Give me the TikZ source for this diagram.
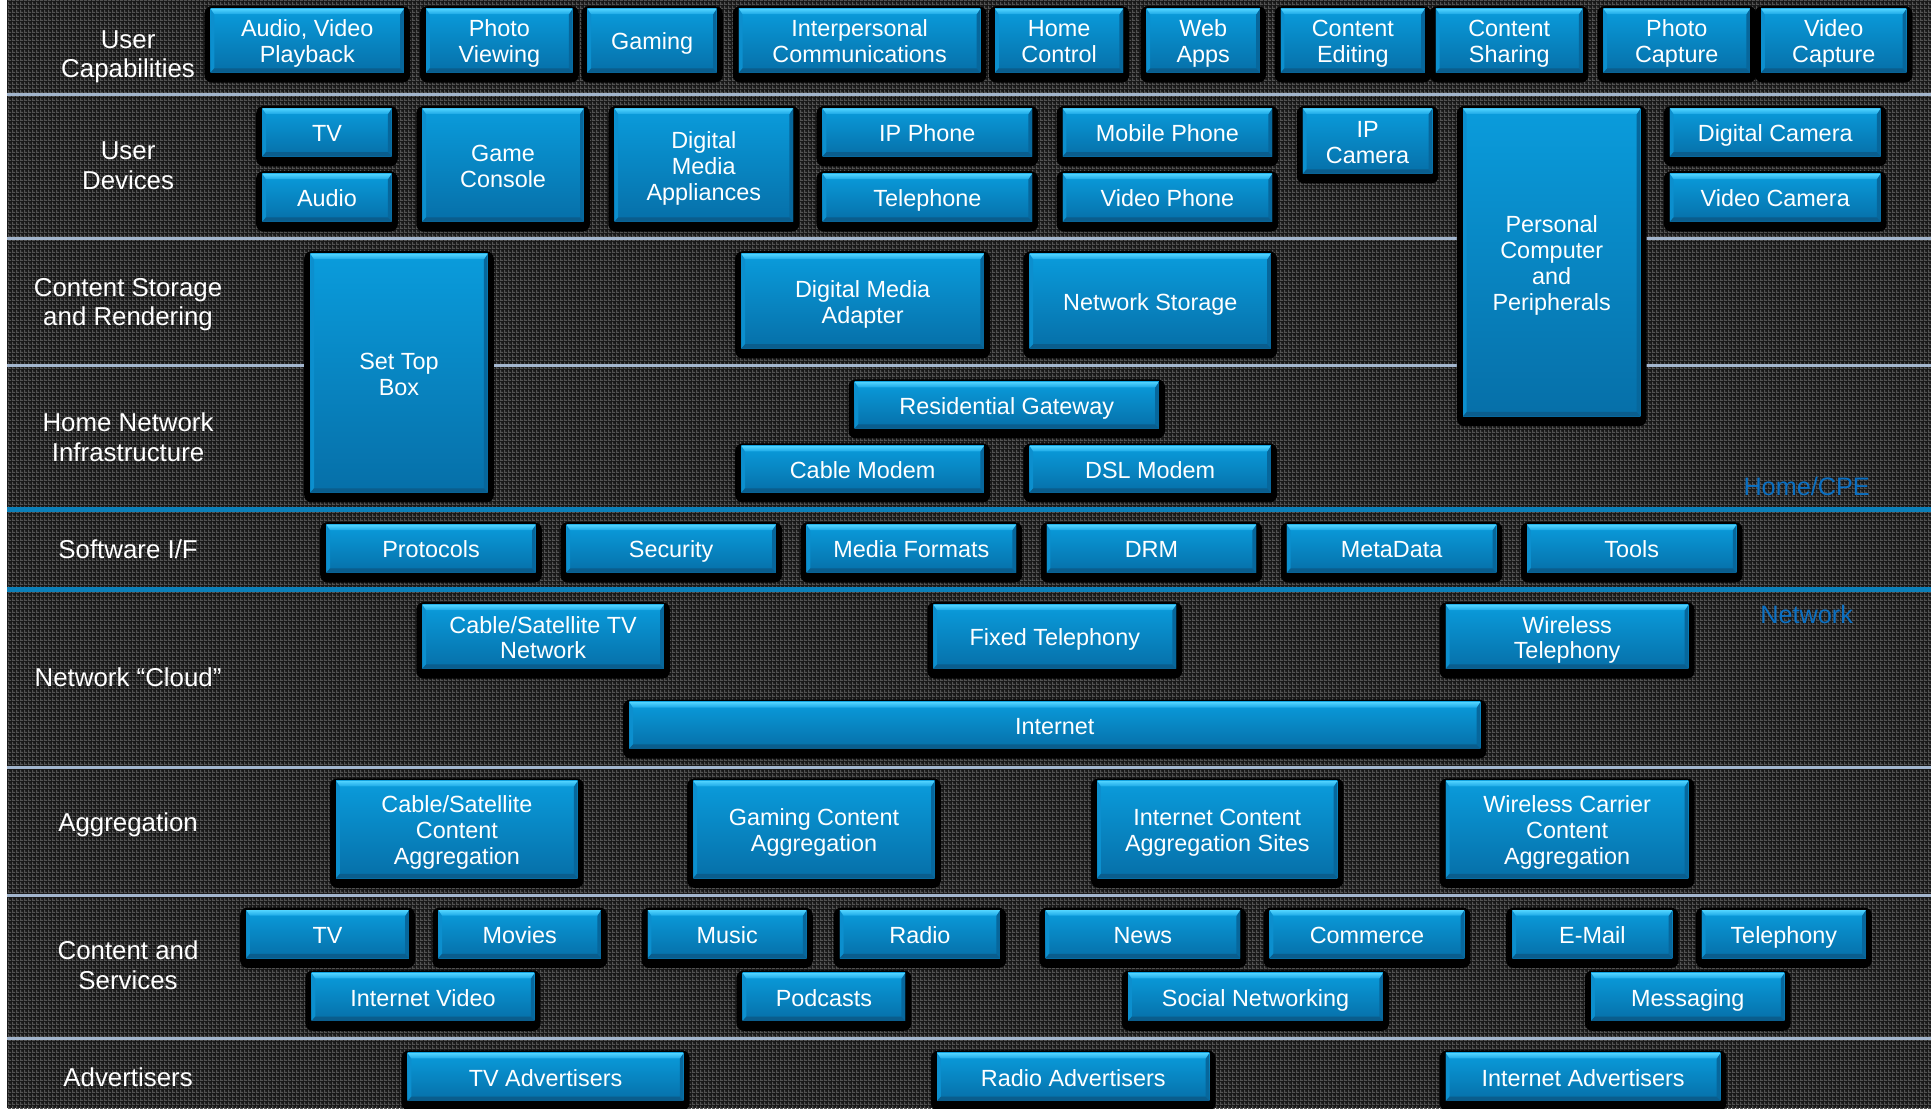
\documentclass[tikz,border=0pt]{standalone}
\usepackage{fontspec}
\setmainfont{Liberation Sans}
\usetikzlibrary{patterns}

\pgfdeclarelayer{backdrop}
\pgfdeclarelayer{shadows}
\pgfsetlayers{backdrop,shadows,main}

% woven texture of the panel
\pgfdeclarepatternformonly{weave}{\pgfpointorigin}{\pgfqpoint{3.25pt}{3.25pt}}{\pgfqpoint{3.25pt}{3.25pt}}{%
  \pgfpathrectangle{\pgfpointorigin}{\pgfqpoint{3.25pt}{1.2pt}}%
  \pgfpathrectangle{\pgfpointorigin}{\pgfqpoint{1.2pt}{3.25pt}}%
  \pgfusepath{fill}}

\definecolor{panel}{HTML}{181818}
\definecolor{panelweave}{HTML}{525252}
\definecolor{rulegrey}{HTML}{A3B6CE}
\definecolor{zone}{HTML}{0B80BA}
\definecolor{zonetext}{HTML}{0A6FC2}
\definecolor{btntop}{HTML}{0A9CDC}
\definecolor{btnbot}{HTML}{066FA8}
\definecolor{bevhi}{HTML}{52D4FF}
\definecolor{bevlo}{HTML}{1CA8E6}
\definecolor{bevdark}{HTML}{0A5D8D}
\definecolor{bevright}{HTML}{07679C}
\definecolor{bevleft}{HTML}{0C8FCE}

\tikzset{
  btnbevel/.style={path picture={
    \path (path picture bounding box.north west) coordinate (bvnw)
          (path picture bounding box.north east) coordinate (bvne)
          (path picture bounding box.south west) coordinate (bvsw)
          (path picture bounding box.south east) coordinate (bvse);
    \fill[bevleft] (bvnw) -- ([xshift=3pt,yshift=-4.5pt]bvnw)
      -- ([xshift=3pt,yshift=3.5pt]bvsw) -- (bvsw) -- cycle;
    \fill[bevright] (bvne) -- ([xshift=-3pt,yshift=-4.5pt]bvne)
      -- ([xshift=-3pt,yshift=3.5pt]bvse) -- (bvse) -- cycle;
    \shade[top color=bevhi, bottom color=bevlo] (bvnw) -- (bvne)
      -- ([xshift=-3pt,yshift=-4.5pt]bvne) -- ([xshift=3pt,yshift=-4.5pt]bvnw) -- cycle;
    \fill[bevdark] (bvsw) -- (bvse)
      -- ([xshift=-3pt,yshift=3.5pt]bvse) -- ([xshift=3pt,yshift=3.5pt]bvsw) -- cycle;
  }},
  btnface/.style={draw=none, top color=btntop, bottom color=btnbot, btnbevel,
    inner sep=0pt, text=white, align=center,
    font=\fontsize{19}{21}\selectfont},
  btnshade/.style={fill=black, rounded corners=6pt},
  rowlabel/.style={text=white, align=center, inner sep=0pt,
    font=\fontsize{21}{24}\selectfont},
  divider/.style={draw=rulegrey, line width=2.2pt},
  zoneline/.style={draw=zone, line width=4pt},
  zonelabel/.style={text=zonetext, font=\fontsize{20.5}{24}\selectfont},
}

% a tall strut opens the first line and a deep one closes the last,
% so every text block sits at the same height whatever its letters
\newcommand\btntop{\rule{0pt}{20pt}}
\newcommand\btnbot{\rule[-5pt]{0pt}{5pt}}
\newcommand\lbltop{\rule{0pt}{21pt}}
\newcommand\lblbot{\rule[-6pt]{0pt}{6pt}}

% \btn{name}{left}{top}{right}{bottom}{text}
\newcommand\btn[6]{%
  \begin{pgfonlayer}{shadows}
    \fill[btnshade] (#2-5,#3-2) rectangle (#4+5,#5+8);
  \end{pgfonlayer}
  \node[btnface, minimum width={#4-#2}, minimum height={#5-#3}]
    (#1) at ({(#2+#4)/2},{(#3+#5)/2}) {\btntop#6\btnbot};
}
% \rowtitle{name}{y}{text}
\newcommand\rowtitle[3]{%
  \node[rowlabel] (#1) at (104,#2) {\lbltop#3\lblbot};
}

\begin{document}
\begin{tikzpicture}[x=1pt,y=-1pt]
\useasboundingbox (0,0) rectangle (1568,900);

\begin{pgfonlayer}{backdrop}
  \fill[white] (0,0) rectangle (1568,900);
  \fill[panel] (6,0) rectangle (1568,900);
  \fill[pattern=weave, pattern color=panelweave] (6,0) rectangle (1568,900);
  % layer dividers
  \draw[divider] (6,77) -- (1568,77);
  \draw[divider] (6,193.5) -- (1568,193.5);
  \draw[divider] (6,297) -- (1568,297);
  \draw[zoneline] (6,414) -- (1568,414);
  \draw[zoneline] (6,479) -- (1568,479);
  \draw[divider] (6,623) -- (1568,623);
  \draw[divider] (6,727) -- (1568,727);
  \draw[divider] (6,843) -- (1568,843);
\end{pgfonlayer}

% row titles
\rowtitle{lcap}{43.5}{User\\Capabilities}
\rowtitle{ldev}{134}{User\\Devices}
\rowtitle{lstor}{245}{Content Storage\\and Rendering}
\rowtitle{lhome}{355}{Home Network\\Infrastructure}
\rowtitle{lsw}{446}{Software I/F}
\rowtitle{lnet}{550}{Network “Cloud”}
\rowtitle{lagg}{668}{Aggregation}
\rowtitle{lcont}{784}{Content and\\Services}
\rowtitle{ladv}{875}{Advertisers}

\node[zonelabel] (zhome) at (1467,395) {Home/CPE};
\node[zonelabel] (znet)  at (1467,499) {Network};

% user capabilities
\btn{cap1}{171}{7}{328}{59}{Audio, Video\\Playback}
\btn{cap2}{346}{7}{465}{59}{Photo\\Viewing}
\btn{cap3}{477}{7}{582}{59}{Gaming}
\btn{cap4}{600}{7}{796}{59}{Interpersonal\\Communications}
\btn{cap5}{808}{7}{912}{59}{Home\\Control}
\btn{cap6}{931}{7}{1023}{59}{Web\\Apps}
\btn{cap7}{1040}{7}{1157}{59}{Content\\Editing}
\btn{cap8}{1166}{7}{1285}{59}{Content\\Sharing}
\btn{cap9}{1302}{7}{1421}{59}{Photo\\Capture}
\btn{cap10}{1430}{7}{1548}{59}{Video\\Capture}

% user devices
\btn{devtv}{213}{88}{318}{127}{TV}
\btn{devaudio}{213}{141}{318}{180}{Audio}
\btn{game}{343}{88}{474}{180}{Game\\Console}
\btn{dma}{499}{88}{644}{180}{Digital\\Media\\Appliances}
\btn{ipphone}{668}{88}{838}{127}{IP Phone}
\btn{telephone}{668}{141}{838}{180}{Telephone}
\btn{mobile}{863}{88}{1033}{127}{Mobile Phone}
\btn{videophone}{863}{141}{1033}{180}{Video Phone}
\btn{ipcam}{1058}{88}{1163}{141}{IP\\Camera}
\btn{pc}{1188}{88}{1332}{338}{Personal\\Computer\\and\\Peripherals}
\btn{dcam}{1356}{88}{1527}{127}{Digital Camera}
\btn{vcam}{1356}{141}{1527}{180}{Video Camera}

% storage, rendering and home network
\btn{stb}{252}{206}{396}{400}{Set Top\\Box}
\btn{dmadapter}{602}{206}{799}{283}{Digital Media\\Adapter}
\btn{netstorage}{836}{206}{1032}{283}{Network Storage}
\btn{rgw}{694}{310}{941}{348}{Residential Gateway}
\btn{cablemodem}{602}{362}{799}{400}{Cable Modem}
\btn{dslmodem}{836}{362}{1032}{400}{DSL Modem}

% software interfaces
\btn{protocols}{265}{426}{435}{465}{Protocols}
\btn{security}{460}{426}{630}{465}{Security}
\btn{mediaformats}{655}{426}{825}{465}{Media Formats}
\btn{drm}{850}{426}{1020}{465}{DRM}
\btn{metadata}{1045}{426}{1215}{465}{MetaData}
\btn{tools}{1240}{426}{1410}{465}{Tools}

% network cloud
\btn{cabletv}{343}{491}{539}{543}{Cable/Satellite TV\\Network}
\btn{fixedtel}{758}{491}{955}{543}{Fixed Telephony}
\btn{wirelesstel}{1174}{491}{1371}{543}{Wireless\\Telephony}
\btn{internet}{511}{570}{1202}{608}{Internet}

% aggregation
\btn{cableagg}{273}{634}{469}{713}{Cable/Satellite\\Content\\Aggregation}
\btn{gamingagg}{563}{634}{759}{713}{Gaming Content\\Aggregation}
\btn{inetagg}{891}{634}{1086}{713}{Internet Content\\Aggregation Sites}
\btn{wirelessagg}{1174}{634}{1371}{713}{Wireless Carrier\\Content\\Aggregation}

% content and services
\btn{ctv}{200}{739}{332}{778}{TV}
\btn{movies}{356}{739}{488}{778}{Movies}
\btn{music}{526}{739}{655}{778}{Music}
\btn{radio}{682}{739}{812}{778}{Radio}
\btn{news}{849}{739}{1007}{778}{News}
\btn{commerce}{1031}{739}{1189}{778}{Commerce}
\btn{email}{1228}{739}{1358}{778}{E-Mail}
\btn{ctelephony}{1382}{739}{1515}{778}{Telephony}
\btn{inetvideo}{253}{790}{434}{829}{Internet Video}
\btn{podcasts}{603}{790}{735}{829}{Podcasts}
\btn{social}{916}{790}{1123}{829}{Social Networking}
\btn{messaging}{1292}{790}{1449}{829}{Messaging}

% advertisers
\btn{tvadv}{331}{855}{555}{894}{TV Advertisers}
\btn{radioadv}{761}{855}{982}{894}{Radio Advertisers}
\btn{inetadv}{1174}{855}{1397}{894}{Internet Advertisers}
\end{tikzpicture}
\end{document}
